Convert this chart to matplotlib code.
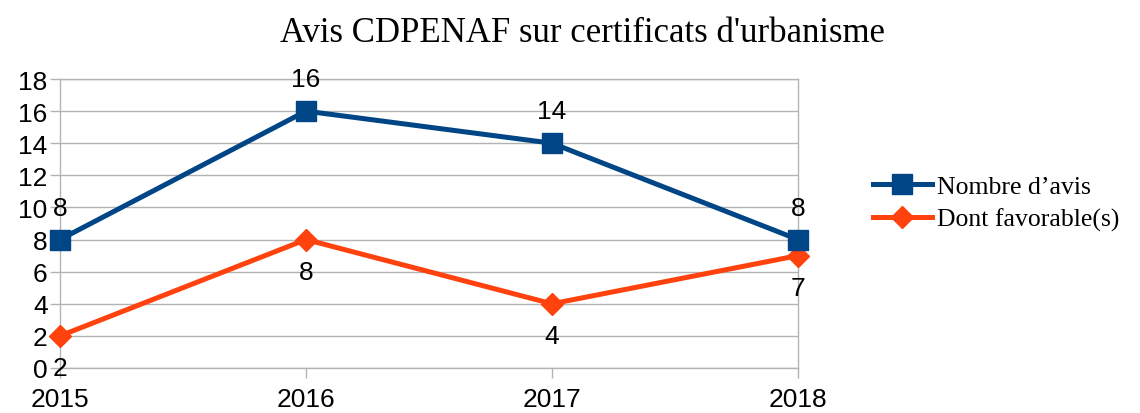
import matplotlib.pyplot as plt

# data
years = [2015, 2016, 2017, 2018]
nombre_avis = [8, 16, 14, 8]
favorables = [2, 8, 4, 7]
title = "Avis CDPENAF sur certificats d'urbanisme"
labels = ["Nombre d\u2019avis", "Dont favorable(s)"]

blue = "#004586"
orange = "#ff420e"
grid_col = "#b3b3b3"

fig = plt.figure(figsize=(11.4, 4.14), dpi=100)
ax = fig.add_axes([60 / 1140, 45 / 414, 738 / 1140, 289 / 414])

ax.plot(years, nombre_avis, color=blue, lw=3.6, marker="s", ms=14,
        label=labels[0], clip_on=False, zorder=4)
ax.plot(years, favorables, color=orange, lw=3.6, marker="D", ms=11,
        label=labels[1], clip_on=False, zorder=3)

for x, y in zip(years, nombre_avis):
    ax.annotate(str(y), (x, y), xytext=(0, 23), textcoords="offset points",
                ha="center", va="center", fontsize=19, family="Liberation Sans")
for x, y in zip(years, favorables):
    ax.annotate(str(y), (x, y), xytext=(0, -23), textcoords="offset points",
                ha="center", va="center", fontsize=19, family="Liberation Sans")

ax.set_xlim(2015, 2018)
ax.set_ylim(0, 18)
ax.set_xticks(years)
ax.set_yticks(range(0, 19, 2))
ax.grid(axis="y", color=grid_col, lw=1)
ax.set_axisbelow(True)
for s in ax.spines.values():
    s.set_color(grid_col)
    s.set_linewidth(1)
ax.tick_params(axis="both", colors=grid_col, length=7, width=1, labelcolor="black",
               labelsize=19)
ax.tick_params(axis="x", pad=7)
ax.tick_params(axis="y", pad=2)
for lab in ax.get_xticklabels() + ax.get_yticklabels():
    lab.set_family("Liberation Sans")

fig.suptitle(title, x=(280 + 885) / 2 / 1140, y=1 - 33 / 414, va="center",
             fontsize=25, family="Liberation Serif")

leg = ax.legend(loc="center left", bbox_to_anchor=(1.07, 0.57), frameon=False,
                prop={"family": "Liberation Serif", "size": 18.5},
                handlelength=2.3, handletextpad=0.2, labelspacing=0.38)

fig.savefig("out.png", dpi=100)
